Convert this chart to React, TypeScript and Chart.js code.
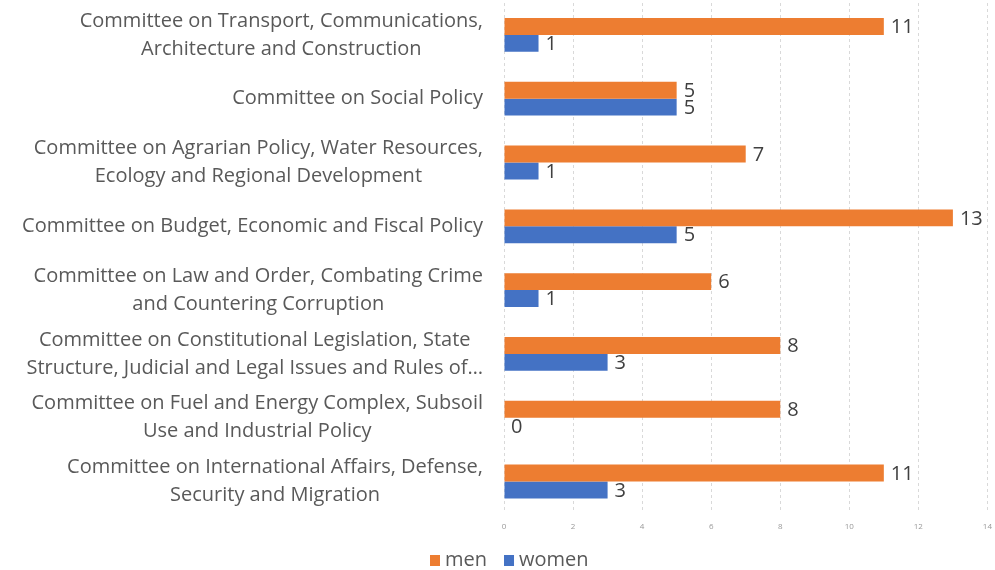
import React, { useEffect, useRef } from "react";
import { Chart, registerables } from "chart.js";

Chart.register(...registerables);

const categories: string[][] = [
  ["Committee on Transport, Communications,", "Architecture and Construction"],
  ["Committee on Social Policy"],
  ["Committee on Agrarian Policy, Water Resources,", "Ecology and Regional Development"],
  ["Committee on Budget, Economic and Fiscal Policy"],
  ["Committee on Law and Order, Combating Crime", "and Countering Corruption"],
  ["Committee on Constitutional Legislation, State", "Structure, Judicial and Legal Issues and Rules of…"],
  ["Committee on Fuel and Energy Complex, Subsoil", "Use and Industrial Policy"],
  ["Committee on International Affairs, Defense,", "Security and Migration"],
];
const menValues: number[] = [11, 5, 7, 13, 6, 8, 8, 11];
const womenValues: number[] = [1, 5, 1, 5, 1, 3, 0, 3];
const seriesNames: string[] = ["men", "women"];
const seriesColors: string[] = ["#ED7D31", "#4472C4"];
const xMin = 0;
const xMax = 14;
const xStep = 2;

const FONT = "'Open Sans', Lato, sans-serif";

const customDraw = {
  id: "customDraw",
  afterDraw(chart: any) {
    const ctx = chart.ctx as CanvasRenderingContext2D;
    const yScale = chart.scales.y;
    const area = chart.chartArea;
    ctx.save();
    // category labels
    ctx.font = `20px ${FONT}`;
    ctx.fillStyle = "#595959";
    ctx.textBaseline = "middle";
    ctx.textAlign = "center";
    const rightEdge = area.left - 21;
    const lineH = 28;
    categories.forEach((lines, i) => {
      const cy = yScale.getPixelForValue(i);
      const widest = Math.max(...lines.map((l) => ctx.measureText(l).width));
      const cx = rightEdge - widest / 2;
      const startY = cy - ((lines.length - 1) * lineH) / 2;
      lines.forEach((l, j) => ctx.fillText(l, cx, startY + j * lineH));
    });
    // value labels
    ctx.fillStyle = "#404040";
    ctx.textAlign = "left";
    ctx.font = `20px ${FONT}`;
    chart.data.datasets.forEach((ds: any, di: number) => {
      const meta = chart.getDatasetMeta(di);
      meta.data.forEach((bar: any, i: number) => {
        const v = ds.data[i];
        ctx.fillText(String(v), bar.x + 7, bar.y + 1);
      });
    });
    // legend
    ctx.font = `20px ${FONT}`;
    ctx.textBaseline = "middle";
    const ly = 560;
    let lx = 430;
    seriesNames.forEach((name, i) => {
      ctx.fillStyle = seriesColors[i];
      ctx.fillRect(lx, ly - 5, 10, 11);
      ctx.fillStyle = "#595959";
      ctx.fillText(name, lx + 15, ly);
      lx += 15 + ctx.measureText(name).width + 17;
    });
    ctx.restore();
  },
};

export default function App() {
  const ref = useRef<HTMLCanvasElement | null>(null);
  useEffect(() => {
    document.body.style.margin = "0";
    if (!ref.current) return;
    const chart = new Chart(ref.current, {
      type: "bar",
      data: {
        labels: categories.map((c) => c.join(" ")),
        datasets: [
          {
            label: seriesNames[0],
            data: menValues,
            backgroundColor: seriesColors[0],
            categoryPercentage: 0.53,
            barPercentage: 1,
          },
          {
            label: seriesNames[1],
            data: womenValues,
            backgroundColor: seriesColors[1],
            categoryPercentage: 0.53,
            barPercentage: 1,
          },
        ],
      },
      options: {
        indexAxis: "y",
        animation: false,
        responsive: true,
        maintainAspectRatio: false,
        layout: { padding: { left: 496, right: 7, top: 3, bottom: 35 } },
        plugins: {
          legend: { display: false },
          tooltip: { enabled: false },
        },
        scales: {
          x: {
            min: xMin,
            max: xMax,
            ticks: {
              stepSize: xStep,
              color: "#999999",
              font: { size: 8, family: FONT },
              padding: 3,
            },
            grid: {
              color: "#d9d9d9",
              tickLength: 6,
              tickColor: "rgba(0,0,0,0)",
            },
            border: { display: false, dash: [3, 3] },
          },
          y: {
            ticks: { display: false },
            grid: { display: false },
            border: { display: false },
          },
        },
      },
      plugins: [customDraw],
    });
    return () => chart.destroy();
  }, []);
  return (
    <div style={{ width: 995, height: 570, position: "relative" }}>
      <canvas ref={ref} />
    </div>
  );
}
